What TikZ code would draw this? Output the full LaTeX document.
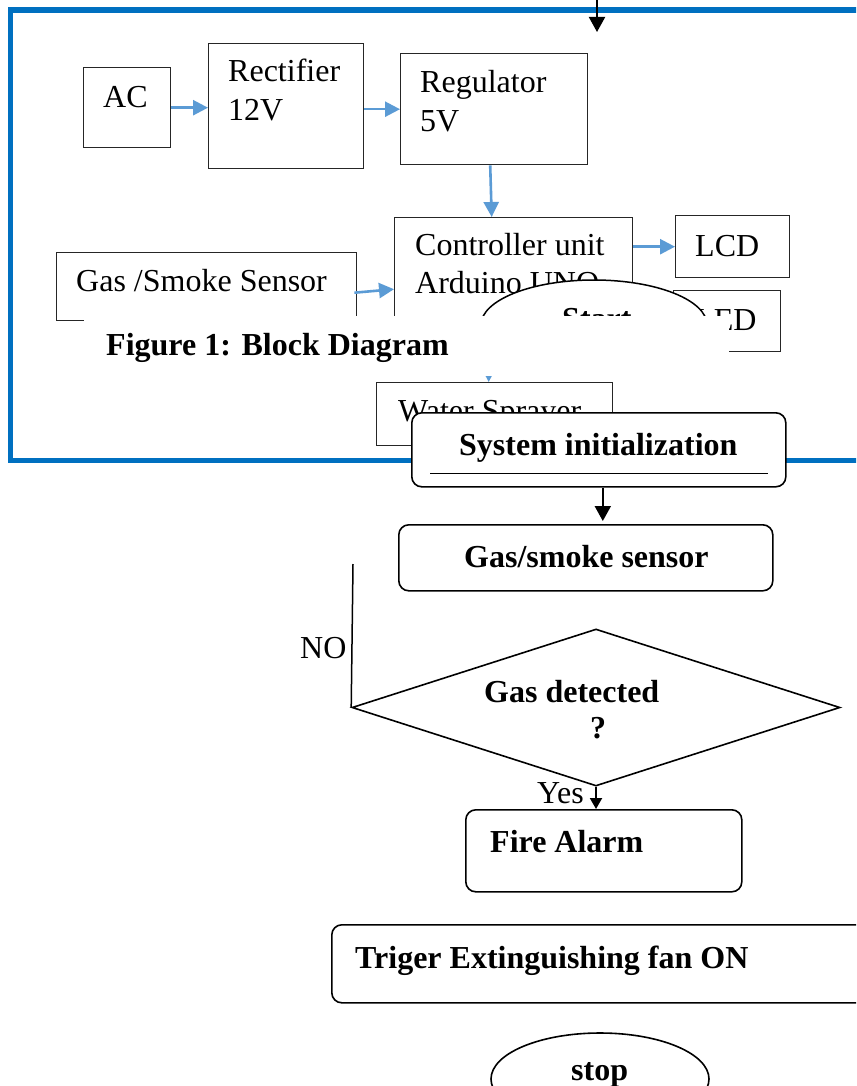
\documentclass[tikz,border=0pt]{standalone}
\usepackage{fontspec}
\setmainfont{Liberation Serif}
\usetikzlibrary{arrows.meta,shapes.geometric,calc}
\definecolor{frameblue}{HTML}{0070C0}
\definecolor{arrowblue}{HTML}{5B9BD5}
\begin{document}
\begin{tikzpicture}[x=1pt,y=-1pt,
  blk/.style={draw=black!85, line width=1.4pt, fill=white, inner sep=0pt, anchor=north west},
  fbox/.style={draw=black, line width=1.6pt, rounded corners=10pt, fill=white, inner sep=0pt, anchor=north west},
  barrow/.style={draw=arrowblue, line width=2.6pt, -{Triangle[width=15pt,length=15pt]}},
  karrow/.style={draw=black, line width=2pt, -{Triangle[width=16pt,length=15pt]}},
  txt/.style={anchor=base west, inner sep=0pt, font=\fontsize{32}{38}\selectfont},
  btxt/.style={anchor=base west, inner sep=0pt, font=\fontsize{32}{38}\selectfont\bfseries},
]
\useasboundingbox (0,0) rectangle (856,1086);
\clip (0,0) rectangle (856,1086);
\fill[white] (0,0) rectangle (856,1086);

% outer frame
\draw[frameblue, line width=5.5pt] (10.5,10) rectangle (900,460.5);
\coordinate (topin) at (597,-2);
\coordinate (toptip) at (597,32);
\draw[karrow] (topin) -- (toptip);

% block diagram
\node[blk, minimum width=87, minimum height=80] (ac) at (83,67) {};
\node[blk, minimum width=155, minimum height=125] (rect) at (208,43) {};
\node[blk, minimum width=187, minimum height=111] (reg) at (400,53) {};
\node[blk, minimum width=238, minimum height=123] (ctrl) at (394,217) {};
\node[blk, minimum width=114, minimum height=62] (lcd) at (675,215) {};
\node[blk, minimum width=107, minimum height=61] (led) at (673,290) {};
\node[blk, minimum width=300, minimum height=68] (gas) at (56,252) {};
\node[blk, minimum width=236, minimum height=63] (water) at (376,382) {};

\node[txt] (tac) at (103,108) {AC};
\node[txt] (trect1) at (228,82) {Rectifier};
\node[txt] (trect2) at (228,121) {12V};
\node[txt] (treg1) at (420,93) {Regulator};
\node[txt] (treg2) at (420,132) {5V};
\node[txt] (tctrl1) at (415,255) {Controller unit};
\node[txt] (tctrl2) at (415,293) {Arduino UNO};
\node[txt] (tlcd) at (695,256) {LCD};
\node[txt] (tled) at (694,330) {LED};
\node[txt] (tgas) at (76,291) {Gas /Smoke Sensor};
\node[txt] (twater) at (398,421) {Water Sprayer};

\draw[barrow] (ac.east) -- (ac.east -| rect.west);
\draw[barrow] (rect.east |- reg.west) -- (reg.west);
\draw[barrow] ([xshift=-4pt]reg.south) -- ([xshift=-22pt]ctrl.north);
\draw[barrow] ([xshift=-3pt,yshift=-6pt]gas.east) -- ([yshift=-10pt]ctrl.west);
\draw[barrow] (ctrl.east |- lcd.west) -- (lcd.west);
\coordinate (wt) at ([xshift=-6pt]water.north);
\draw[barrow] (ctrl.south -| wt) -- (wt);

% start ellipse
\node[draw, ellipse, line width=1.5pt, fill=white, minimum width=226, minimum height=90, inner sep=0pt] (start) at (594,325) {};
\node[btxt] (tstart) at (562,329) {Start};

% caption band
\node[fill=white, inner sep=0pt, anchor=north west, minimum width=645, minimum height=60] (band) at (84,316) {};
\node[btxt] (cap) at (106,355) {Figure 1: Block Diagram};

% flowchart
\node[fbox, minimum width=374, minimum height=74] (sys) at (411,412) {};
\node[btxt] (tsys) at (459,455) {System initialization};
\draw[line width=1.4pt] ($(sys.south west)+(19,-14)$) -- ($(sys.south east)+(-19,-14)$);

\node[fbox, minimum width=374, minimum height=66] (gas2) at (398,524) {};
\node[btxt] (tgas2) at (464,567) {Gas/smoke sensor};
\draw[karrow, shorten >=3pt] ([xshift=4pt]sys.south) -- ([xshift=4pt]sys.south |- gas2.north);

\node[draw, diamond, line width=1.6pt, inner sep=0pt, minimum width=488, minimum height=157] (dec) at (596,707.5) {};
\node[btxt] (tdec1) at (484,702) {Gas detected};
\node[btxt] (tdec2) at (590,738) {?};
\coordinate (noend) at (353,564);
\draw[line width=1.5pt] (noend) -- (dec.west);
\node[txt] (tno) at (300,658) {NO};

\node[fbox, minimum width=276, minimum height=82] (fire) at (465,809) {};
\node[btxt] (tfire) at (490,852) {Fire Alarm};
\draw[draw=black, line width=2pt, -{Triangle[width=12pt,length=11pt]}] (dec.south) -- (dec.south |- fire.north);
\node[txt] (tyes) at (537,803) {Yes};

\node[fbox, minimum width=560, minimum height=78] (trig) at (331,924) {};
\node[btxt] (ttrig) at (355,968) {Triger Extinguishing fan ON};

\node[draw, ellipse, line width=1.6pt, fill=white, minimum width=218, minimum height=92, inner sep=0pt] (stopn) at (600,1079) {};
\node[btxt] (tstop) at (571,1080) {stop};
\end{tikzpicture}
\end{document}
